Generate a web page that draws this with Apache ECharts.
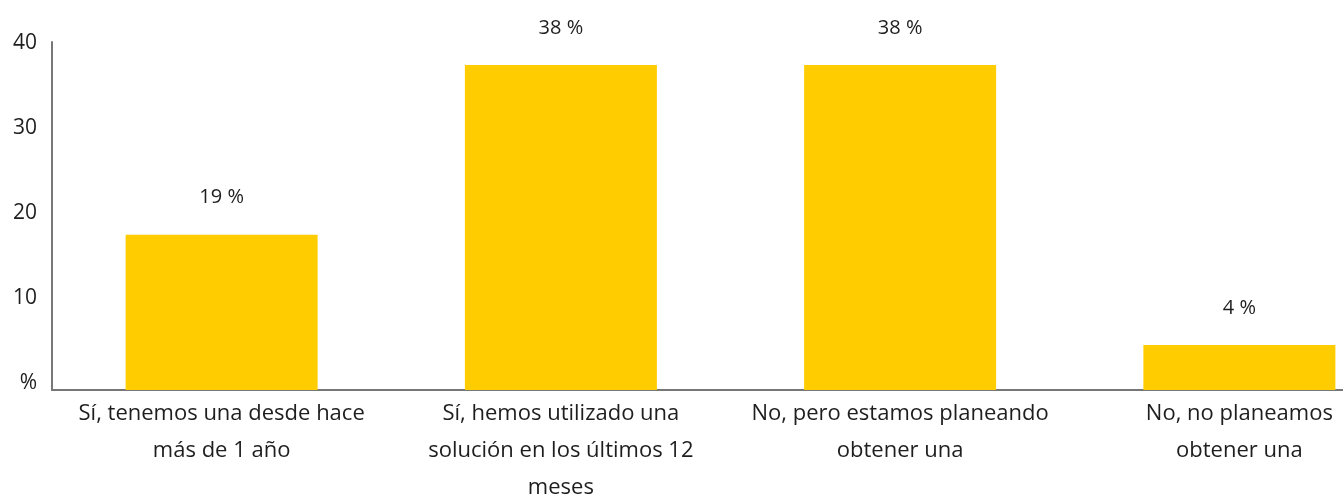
<!DOCTYPE html>
<html>
<head>
<meta charset="utf-8">
<script src="https://cdn.jsdelivr.net/npm/echarts@6/dist/echarts.min.js"></script>
<style>
  html, body { margin: 0; padding: 0; background: #fff; }
  #chart { width: 1343px; height: 496px; }
</style>
</head>
<body>
<div id="chart"></div>
<script>
// categories (line breaks as in the picture)
const categories = [
  'Sí, tenemos una desde hace\nmás de 1 año',
  'Sí, hemos utilizado una\nsolución en los últimos 12\nmeses',
  'No, pero estamos planeando\nobtener una',
  'No, no planeamos\nobtener una'
];
// bar heights as drawn
const barValues = [18.3, 38.3, 38.3, 5.3];
// printed labels above the bars
const labelValues = [19, 38, 38, 4];
const yTicks = [0, 10, 20, 30, 40];

const myChart = echarts.init(document.getElementById('chart'));

const option = {
  backgroundColor: '#ffffff',
  animation: false,
  textStyle: { fontFamily: 'Open Sans' },
  grid: {
    left: 52,
    top: 42,
    right: -66,
    bottom: 106,
    containLabel: false,
    outerBoundsMode: 'none'
  },
  xAxis: {
    type: 'category',
    data: categories,
    axisLine: { show: true, lineStyle: { color: '#777777', width: 2 } },
    axisTick: { show: false },
    axisLabel: {
      interval: 0,
      color: '#1e1e1e',
      fontSize: 22,
      lineHeight: 37,
      margin: 5,
      align: 'center'
    }
  },
  yAxis: {
    type: 'value',
    min: 0,
    max: 41,
    interval: 10,
    axisLine: { show: true, lineStyle: { color: '#777777', width: 2 } },
    axisTick: { show: false },
    splitLine: { show: false },
    axisLabel: {
      color: '#1e1e1e',
      fontSize: 21,
      margin: 15,
      verticalAlign: 'bottom',
      lineHeight: 14,
      formatter: function (v) {
        if (yTicks.indexOf(v) < 0) return '';
        return v === 0 ? '%' : String(v);
      }
    }
  },
  series: [
    {
      type: 'bar',
      data: barValues,
      barWidth: 192,
      itemStyle: { color: '#FFCC00' },
      label: {
        show: true,
        position: 'top',
        distance: 27,
        color: '#1e1e1e',
        fontSize: 20,
        formatter: function (p) {
          return labelValues[p.dataIndex] + ' %';
        }
      }
    }
  ]
};

myChart.setOption(option);
</script>
</body>
</html>
